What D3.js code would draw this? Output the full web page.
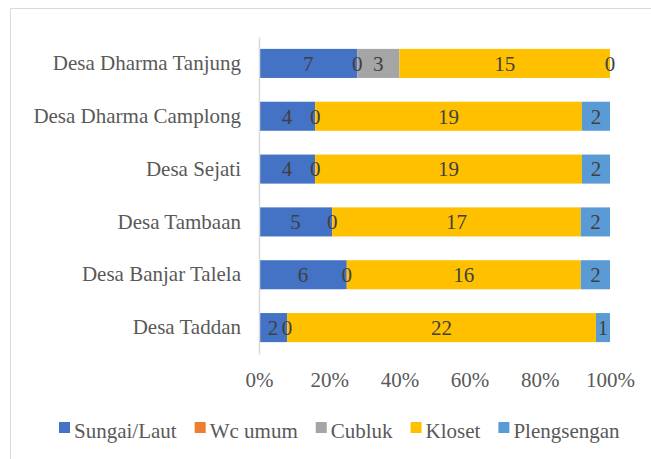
<!DOCTYPE html>
<html>
<head>
<meta charset="utf-8">
<script src="https://cdn.jsdelivr.net/npm/d3@7"></script>
<style>
  body { margin: 0; background: #fff; }
</style>
</head>
<body>
<svg id="chart"></svg>
<script>
// data
const villages = ["Desa Dharma Tanjung", "Desa Dharma Camplong", "Desa Sejati", "Desa Tambaan", "Desa Banjar Talela", "Desa Taddan"];
const seriesNames = ["Sungai/Laut", "Wc umum", "Cubluk", "Kloset", "Plengsengan"];
const sungaiLaut = [7, 4, 4, 5, 6, 2];
const wcUmum = [0, 0, 0, 0, 0, 0];
const cubluk = [3, null, null, null, null, null];
const kloset = [15, 19, 19, 17, 16, 22];
const plengsengan = [0, 2, 2, 2, 2, 1];
const tickLabels = ["0%", "20%", "40%", "60%", "80%", "100%"];

const colors = ["#4472C4", "#ED7D31", "#A5A5A5", "#FFC000", "#5B9BD5"];
const seriesValues = [sungaiLaut, wcUmum, cubluk, kloset, plengsengan];

const FONT = "'Liberation Serif', 'Times New Roman', serif";
const FS = "21px";

const width = 651, height = 459;
const margin = {top: 37, right: 41, bottom: 105, left: 259};

const svg = d3.select("#chart")
    .attr("width", width)
    .attr("height", height)
    .style("font-family", FONT);

// chart area border (only top and left visible in the crop)
svg.append("path")
    .attr("d", `M10.5,${height} V8.5 H${width}`)
    .attr("fill", "none")
    .attr("stroke", "#d9d9d9")
    .attr("stroke-width", 1);

// build table for stack
const rows = villages.map((v, i) => {
  let r = {village: v};
  seriesNames.forEach((s, j) => { r[s] = seriesValues[j][i]; });
  return r;
});

const stack = d3.stack()
    .keys(seriesNames)
    .value((d, key) => d[key] || 0)
    .offset(d3.stackOffsetExpand);
const stacked = stack(rows);

const innerW = width - margin.left - margin.right;
const innerH = height - margin.top - margin.bottom;

const xScale = d3.scaleLinear().domain([0, 1]).range([0, innerW]);
const yScale = d3.scaleBand().domain(villages).range([0, innerH])
    .paddingInner(0.45).paddingOuter(0.225);

const chart = svg.append("g")
    .attr("transform", `translate(${margin.left},${margin.top})`);

// bars
chart.selectAll(".series")
    .data(stacked)
  .join("g")
    .attr("class", "series")
    .attr("fill", (d, i) => colors[i])
  .selectAll("rect")
    .data(d => d)
  .join("rect")
    .attr("x", d => xScale(d[0]))
    .attr("y", d => yScale(d.data.village))
    .attr("width", d => xScale(d[1]) - xScale(d[0]))
    .attr("height", yScale.bandwidth());

// data labels
stacked.forEach((s, i) => {
  chart.append("g")
    .selectAll("text")
      .data(s.filter(d => d.data[s.key] !== null))
    .join("text")
      .attr("x", d => xScale((d[0] + d[1]) / 2))
      .attr("y", d => yScale(d.data.village) + yScale.bandwidth() / 2)
      .attr("dy", "0.35em")
      .attr("text-anchor", "middle")
      .attr("fill", "#404040")
      .style("font-family", FONT)
      .style("font-size", FS)
      .text(d => d.data[s.key]);
});

// y axis
const yAxis = d3.axisLeft(yScale).tickSize(0).tickPadding(18);
const yAxisG = chart.append("g").call(yAxis);
yAxisG.select(".domain").attr("stroke", "#d9d9d9").attr("stroke-width", 1.5);
yAxisG.selectAll("text")
    .attr("fill", "#595959")
    .style("font-family", FONT)
    .style("font-size", FS);

// x axis (labels only)
const xAxis = d3.axisBottom(xScale)
    .tickValues(d3.range(tickLabels.length).map(i => i / (tickLabels.length - 1)))
    .tickFormat((d, i) => tickLabels[i])
    .tickSize(0).tickPadding(18);
const xAxisG = chart.append("g")
    .attr("transform", `translate(0,${innerH})`)
    .call(xAxis);
xAxisG.select(".domain").remove();
xAxisG.selectAll("text")
    .attr("fill", "#595959")
    .style("font-family", FONT)
    .style("font-size", FS);

// legend
const legend = svg.append("g").attr("transform", "translate(59,431)");
let lx = 0;
seriesNames.forEach((name, i) => {
  const item = legend.append("g").attr("transform", `translate(${lx},0)`);
  item.append("rect")
      .attr("x", 0).attr("y", -9)
      .attr("width", 11).attr("height", 11)
      .attr("fill", colors[i]);
  const t = item.append("text")
      .attr("x", 15).attr("y", 0)
      .attr("dy", "0.35em")
      .attr("fill", "#595959")
      .style("font-family", FONT)
      .style("font-size", FS)
      .text(name);
  lx += 15 + t.node().getComputedTextLength() + 18;
});
</script>
</body>
</html>
